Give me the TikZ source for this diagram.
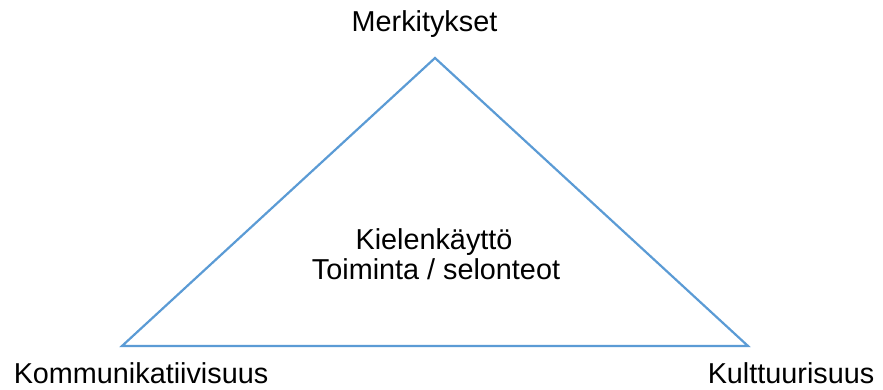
\documentclass[tikz,border=0pt]{standalone}
\usepackage{fontspec}
\setmainfont{Liberation Sans}
\begin{document}
\begin{tikzpicture}[x=1pt,y=-1pt,
  lbl/.style={font=\fontsize{28.8}{34}\selectfont, anchor=base, inner sep=0pt},
  edge/.style={draw={rgb,255:red,91;green,155;blue,213}, line width=2.2pt, line join=miter}]
\useasboundingbox (0,0) rectangle (883,390);
\coordinate (top) at (435,58);
\coordinate (bl) at (122,346);
\coordinate (br) at (748,346);
\draw[edge] (top) -- (bl) -- (br) -- cycle;
\node[lbl] (m) at (424.5,32) {Merkitykset};
\node[lbl] (k) at (141,383) {Kommunikatiivisuus};
\node[lbl] (c) at (791,383) {Kulttuurisuus};
\node[lbl] (c1) at (434,249) {Kielenkäyttö};
\node[lbl] (c2) at (436,279) {Toiminta / selonteot};
\end{tikzpicture}
\end{document}
